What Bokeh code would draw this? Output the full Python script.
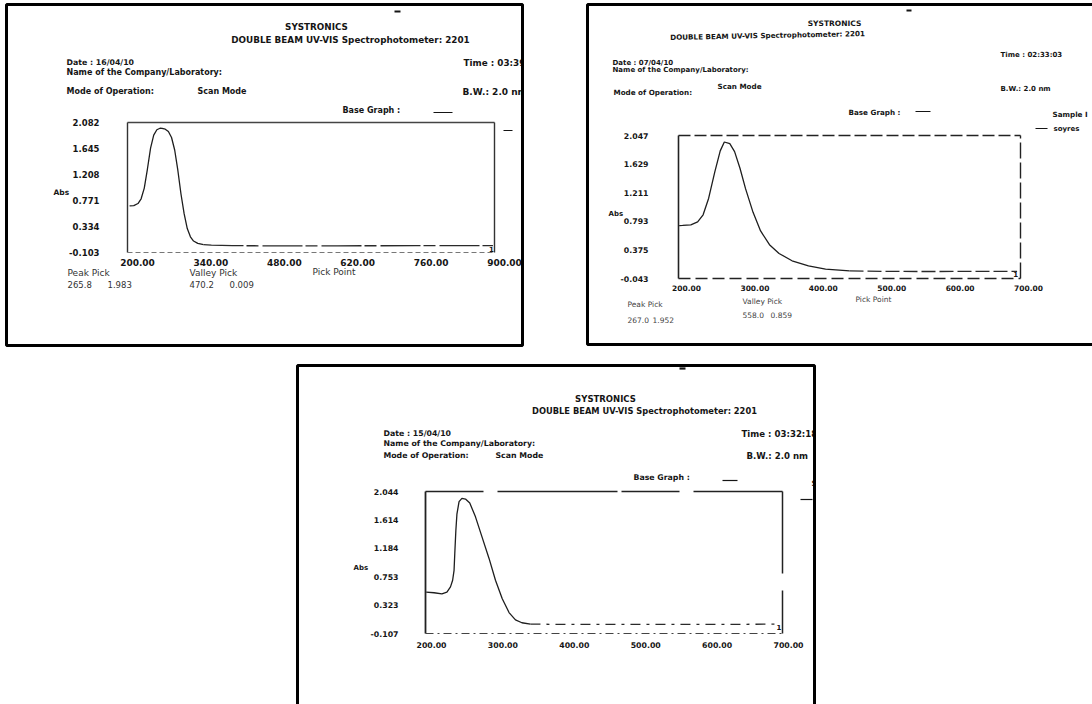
from bokeh.plotting import figure
from bokeh.models import Range1d
from bokeh.core.properties import value
from bokeh.embed import file_html
from bokeh.resources import INLINE

# ---------------- data read from the three printouts ----------------
# Panel 1 (Date 16/04/10) scan 200-900 nm
p1_wavelength = [204, 212, 220, 226, 232, 238, 244, 250, 256, 262, 266, 272, 278, 284,
                 290, 296, 302, 308, 314, 320, 326, 334, 345, 360, 400, 470, 600, 750, 897]
p1_absorbance = [0.68, 0.685, 0.72, 0.80, 0.98, 1.30, 1.65, 1.87, 1.96, 1.985, 1.983, 1.97,
                 1.93, 1.83, 1.62, 1.28, 0.88, 0.55, 0.30, 0.16, 0.09, 0.05, 0.03, 0.02,
                 0.012, 0.009, 0.010, 0.011, 0.012]
p1_x_ticks = [200, 340, 480, 620, 760, 900]
p1_y_ticks = [2.082, 1.645, 1.208, 0.771, 0.334, -0.103]
p1_peak = [265.8, 1.983]
p1_valley = [470.2, 0.009]

# Panel 2 (Date 07/04/10) scan 200-700 nm
p2_wavelength = [201, 206, 218, 228, 236, 244, 253, 261, 267, 275, 282, 290, 298, 309,
                 320, 333, 347, 366, 390, 415, 450, 500, 558, 620, 695]
p2_absorbance = [0.73, 0.733, 0.742, 0.785, 0.888, 1.127, 1.511, 1.822, 1.952, 1.927,
                 1.812, 1.565, 1.270, 0.924, 0.652, 0.451, 0.323, 0.216, 0.141, 0.095,
                 0.069, 0.062, 0.059, 0.060, 0.062]
p2_x_ticks = [200, 300, 400, 500, 600, 700]
p2_y_ticks = [2.047, 1.629, 1.211, 0.793, 0.375, -0.043]
p2_peak = [267.0, 1.952]
p2_valley = [558.0, 0.859]

# Panel 3 (Date 15/04/10) scan 200-700 nm
p3_wavelength = [201, 212, 223, 230, 235, 238, 240, 241, 242.5, 244, 247, 251, 256, 262,
                 270, 279, 289, 298, 307.5, 317, 326, 335, 347, 400, 500, 600, 697]
p3_absorbance = [0.52, 0.51, 0.493, 0.52, 0.60, 0.70, 0.85, 1.10, 1.45, 1.70, 1.89, 1.94,
                 1.93, 1.87, 1.66, 1.36, 1.03, 0.70, 0.42, 0.21, 0.10, 0.056, 0.035, 0.03,
                 0.03, 0.03, 0.035]
p3_x_ticks = [200, 300, 400, 500, 600, 700]
p3_y_ticks = [2.044, 1.614, 1.184, 0.753, 0.323, -0.107]

W, H = 1092, 704
FONT = value("DejaVu Sans")
INK = "#151515"

p = figure(width=W, height=H, x_range=Range1d(0, W), y_range=Range1d(H, 0),
           min_border=0, toolbar_location=None, output_backend="svg",
           x_axis_location=None, y_axis_location=None, outline_line_color=None,
           background_fill_color="white", border_fill_color="white")
p.xgrid.visible = False
p.ygrid.visible = False


def span(d_a, a, d_b, b, total):
    k = (d_b - d_a) / (b - a)
    return d_a - a * k, d_a + (total - a) * k


def add_ranges(tag, xt, yt, box):
    left, right, top, bottom = box
    x_lo, x_hi = span(xt[0], left, xt[-1], right, W)
    y_top, y_bot = span(yt[0], top, yt[-1], bottom, H)
    p.extra_x_ranges[tag + "x"] = Range1d(x_lo, x_hi)
    p.extra_y_ranges[tag + "y"] = Range1d(y_bot, y_top)
    return dict(x_range_name=tag + "x", y_range_name=tag + "y")


def txt(x, y, s, size, bold=True, align="left", color=INK, angle=0.0):
    p.text(x=[x], y=[y], text=[s], text_font=FONT, text_font_size=size,
           text_font_style="bold" if bold else "normal", text_align=align,
           text_baseline="middle", text_color=color, angle=angle)


def seg(x0, y0, x1, y1, w=1.5, color=INK, dash="solid"):
    p.segment(x0=[x0], y0=[y0], x1=[x1], y1=[y1], line_width=w, line_color=color,
              line_dash=dash)


def panel(tag, nm, ab, xt, yt, box, ylab_gap, xlab_dx, xlab_dy, ysize, xsize, edges,
          tail_from, tail_dash):
    r = add_ranges(tag, xt, yt, box)
    x0, x1, y0, y1 = xt[0], xt[-1], yt[-1], yt[0]
    # plot box
    (tc, tw, td), (lc, lw, ld), (rc, rw, rd), (bc, bw, bd) = edges
    p.line([x0, x1], [y1, y1], line_color=tc, line_width=tw, line_dash=td, **r)
    p.line([x0, x0], [y0, y1], line_color=lc, line_width=lw, line_dash=ld, **r)
    p.line([x1, x1], [y0, y1], line_color=rc, line_width=rw, line_dash=rd, **r)
    p.line([x0, x1], [y0, y0], line_color=bc, line_width=bw, line_dash=bd, **r)
    # spectrum: peak part solid, flat tail as printed (broken line)
    head = [i for i, v in enumerate(nm) if v <= tail_from]
    tail = [i for i, v in enumerate(nm) if v >= tail_from]
    p.line([nm[i] for i in head], [ab[i] for i in head], line_color="#1e1e1e",
           line_width=1.3, **r)
    p.line([nm[i] for i in tail], [ab[i] for i in tail], line_color="#2a2a2a",
           line_width=1.3, line_dash=tail_dash, **r)
    p.text(x=[nm[-1]], y=[ab[-1]], text=["1"], text_font=FONT, text_font_size="7px",
           text_font_style="bold", text_align="right", text_baseline="middle",
           x_offset=1, y_offset=3, text_color=INK, **r)
    # tick labels
    p.text(x=[x0] * len(yt), y=yt, text=[f"{v:.3f}" for v in yt], text_font=FONT,
           text_font_size=ysize, text_font_style="bold", text_align="right",
           text_baseline="middle", x_offset=-ylab_gap, text_color=INK, **r)
    p.text(x=xt, y=[y0] * len(xt), text=[f"{v:.2f}" for v in xt], text_font=FONT,
           text_font_size=xsize, text_font_style="bold", text_align="center",
           text_baseline="middle", x_offset=xlab_dx, y_offset=xlab_dy, text_color=INK, **r)
    return r


# ---------------- panel 1 ----------------
panel("p1", p1_wavelength, p1_absorbance, p1_x_ticks, p1_y_ticks, (127, 494, 122, 252),
      28, 10, 10, "8.5px", "9px",
      [("#444", 1.5, "solid"), ("#333", 1.4, "solid"), ("#333", 1.4, "solid"),
       ("#777", 1.0, "5 3")], 345, "40 3 12 4")
txt(316, 26, "SYSTRONICS", "8.8px", align="center")
txt(350, 39, "DOUBLE BEAM UV-VIS Spectrophotometer: 2201", "8.8px", align="center")
txt(66, 62, "Date : 16/04/10", "7.8px")
txt(66, 72, "Name of the Company/Laboratory:", "8px")
txt(66, 91, "Mode of Operation:", "8px")
txt(197, 91, "Scan Mode", "8px")
txt(463, 62, "Time : 03:39:26", "8.8px")
txt(462, 91, "B.W.: 2.0 nm", "9px")
txt(342, 110, "Base Graph :", "8px")
seg(433, 112, 452, 112, 1.2)
seg(503, 130, 512, 130, 1.2)
seg(394, 11, 400, 11, 2.2)
txt(53, 192, "Abs", "7.5px")
txt(67, 272, "Peak Pick", "9px", bold=False, color="#333")
txt(67, 284, f"{p1_peak[0]:.1f}", "8.5px", bold=False, color="#333")
txt(107, 284, f"{p1_peak[1]:.3f}", "8.5px", bold=False, color="#333")
txt(189, 272, "Valley Pick", "9px", bold=False, color="#333")
txt(189, 284, f"{p1_valley[0]:.1f}", "8.5px", bold=False, color="#333")
txt(229, 284, f"{p1_valley[1]:.3f}", "8.5px", bold=False, color="#333")
txt(312, 271, "Pick Point", "9px", bold=False, color="#333")

# ---------------- panel 2 ----------------
panel("p2", p2_wavelength, p2_absorbance, p2_x_ticks, p2_y_ticks, (678, 1020, 135, 278),
      30, 8, 9, "7.8px", "7.5px",
      [("#222", 1.4, "12 4"), ("#222", 1.6, "solid"), ("#222", 1.4, "16 4"),
       ("#222", 1.4, "12 5")], 450, "14 4")
txt(834, 23, "SYSTRONICS", "7.5px", align="center")
txt(767, 35, "DOUBLE BEAM UV-VIS Spectrophotometer: 2201", "7.2px", align="center", angle=0.02)
txt(1000, 54, "Time : 02:33:03", "7px")
txt(612, 62, "Date : 07/04/10", "7px")
txt(612, 69, "Name of the Company/Laboratory:", "7px")
txt(1000, 88, "B.W.: 2.0 nm", "7px")
txt(613, 92, "Mode of Operation:", "7.2px")
txt(717, 86, "Scan Mode", "7.2px")
txt(848, 112, "Base Graph :", "7.2px")
seg(915, 111, 930, 111, 1.2)
txt(1052, 114, "Sample I", "7.2px")
seg(1035, 128, 1047, 128, 1.2)
txt(1053, 128, "soyres", "7px")
seg(906, 10, 911, 10, 2.2)
txt(608, 213, "Abs", "7px")
txt(627, 304, "Peak Pick", "7.5px", bold=False, color="#444")
txt(627, 319, f"{p2_peak[0]:.1f}", "7.5px", bold=False, color="#444")
txt(652, 319, f"{p2_peak[1]:.3f}", "7.5px", bold=False, color="#444")
txt(742, 301, "Valley Pick", "7.5px", bold=False, color="#444")
txt(742, 314, f"{p2_valley[0]:.1f}", "7.5px", bold=False, color="#444")
txt(770, 314, f"{p2_valley[1]:.3f}", "7.5px", bold=False, color="#444")
txt(855, 299, "Pick Point", "7.5px", bold=False, color="#444")

# ---------------- panel 3 ----------------
panel("p3", p3_wavelength, p3_absorbance, p3_x_ticks, p3_y_ticks, (425, 782, 491, 633),
      27, 6, 11, "7.8px", "7.8px",
      [("#222", 1.6, "58 14 120 4"), ("#222", 1.8, "solid"), ("#222", 1.5, "43 17 90"),
       ("#444", 1.2, "8 4 2 4")], 347, "10 6 3 6")
txt(605, 398, "SYSTRONICS", "8.5px", align="center")
txt(644, 410, "DOUBLE BEAM UV-VIS Spectrophotometer: 2201", "8.3px", align="center")
txt(383, 433, "Date : 15/04/10", "7.8px")
txt(383, 443, "Name of the Company/Laboratory:", "7.8px")
txt(383, 455, "Mode of Operation:", "7.8px")
txt(495, 455, "Scan Mode", "7.8px")
txt(741, 433, "Time : 03:32:18", "8.6px")
txt(746, 455, "B.W.: 2.0 nm", "8.6px")
txt(633, 477, "Base Graph :", "7.8px")
seg(722, 480, 737, 480, 1.2)
txt(811, 483, "Sample Data", "7.8px")
seg(800, 499, 812, 499, 1.2)
seg(679, 368, 685, 368, 2.2)
txt(353, 567, "Abs", "7px")

# ---------------- page masks and frames ----------------
p.quad(left=[523.5], right=[585], top=[0], bottom=[346.5], fill_color="white", line_color=None)
p.quad(left=[815], right=[W], top=[347], bottom=[H], fill_color="white", line_color=None)

p.quad(left=[6], right=[522], top=[4], bottom=[345], fill_color=None, line_color="black", line_width=3)
p.quad(left=[587], right=[W + 10], top=[4], bottom=[344], fill_color=None, line_color="black", line_width=3)
p.quad(left=[297], right=[814], top=[365], bottom=[H + 10], fill_color=None, line_color="black", line_width=3)

open("out.html", "w").write(file_html(p, INLINE))
